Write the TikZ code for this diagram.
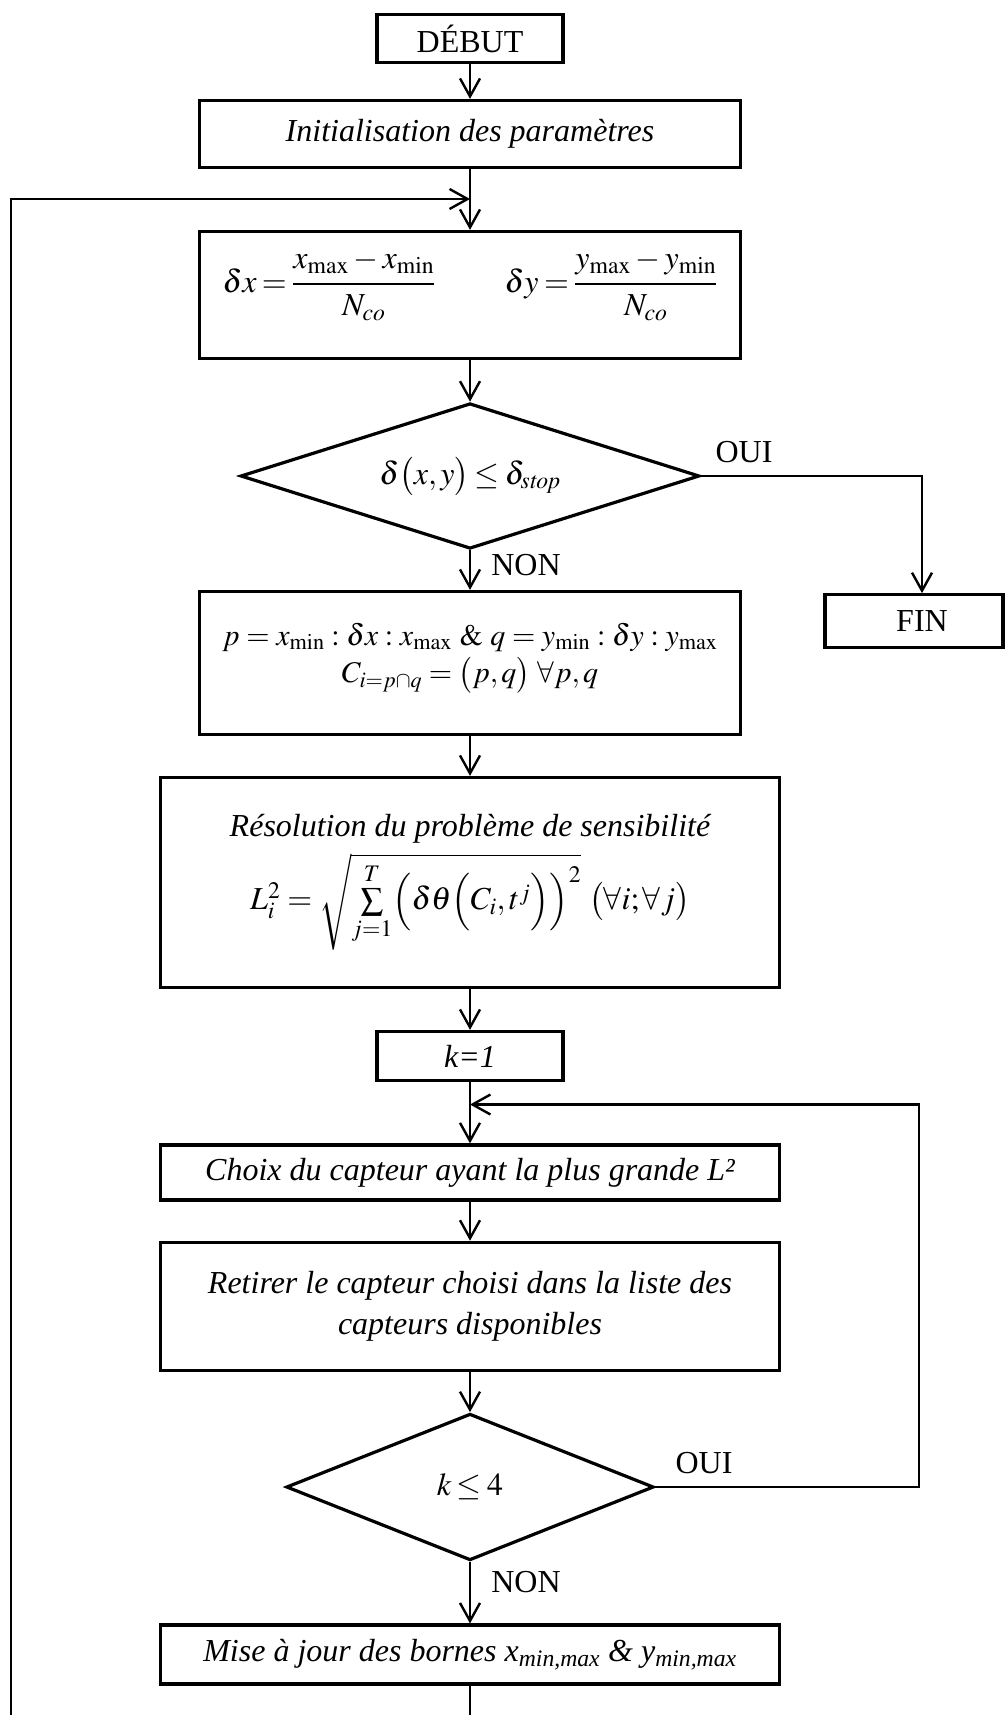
\documentclass[tikz,border=0pt]{standalone}
\usepackage{mathptmx}
\usepackage{fontspec}
\setmainfont{Liberation Serif}
\usetikzlibrary{arrows.meta,shapes.geometric}
\tikzset{
  every node/.style={font=\fontsize{32}{41}\selectfont},
  box/.style={draw, line width=3.2pt, rectangle, inner sep=0pt, align=center},
  dec/.style={draw, line width=3.2pt, diamond, aspect=3, inner sep=0pt},
  txt/.style={inner sep=0pt, align=center},
  arr/.style={line width=2.4pt, -{Straight Barb[length=18pt,width=20pt]}},
  ln/.style={line width=2.4pt},
}
\begin{document}
\begin{tikzpicture}[x=1pt,y=-1pt]
\useasboundingbox (0,0) rectangle (1005,1715);
% nodes
\node[box, minimum width=186pt, minimum height=48pt] (debut) at (470,38.5) {DÉBUT};
\node[box, minimum width=541pt, minimum height=67pt] (init) at (470,134) {\itshape Initialisation des paramètres};
\node[box, minimum width=541pt, minimum height=127pt] (delta) at (470,295) {};
\node[txt] (deltatxt) at (470,284) {$\thickmuskip=3mu\displaystyle \delta x=\frac{x_{\max}-x_{\min}\vphantom{\big|}}{\vphantom{\big|}N_{co}}\qquad\; \delta y=\frac{y_{\max}-y_{\min}\vphantom{\big|}}{\vphantom{\big|}N_{co}}$};
\node[dec, minimum width=459pt, minimum height=145.5pt] (d1) at (470,476) {$\thickmuskip=3mu\delta\bigl(x,y\bigr)\le\delta_{\mathit{stop}}$};
\node[box, minimum width=178pt, minimum height=52.5pt] (fin) at (914,621) {};
\node[txt] (fintxt) at (922,621) {FIN};
\node[box, minimum width=541pt, minimum height=143pt] (pbox) at (470,663) {};
\node[txt, font=\fontsize{30}{36}\selectfont] (pl1) at (470,637) {$p = x_{\min} : \delta x : x_{\max}\ \&\ q = y_{\min} : \delta y : y_{\max}$};
\node[txt, font=\fontsize{30}{36}\selectfont] (pl2) at (470,675) {$C_{i=p\cap q} = \bigl(p,q\bigr)\ \forall p,q$};
\node[box, minimum width=619pt, minimum height=210pt] (res) at (470,882.5) {};
\node[txt] (resl1) at (470,829) {\itshape Résolution du problème de sensibilité};
\node[txt] (resl2) at (470,902) {$L_i^2=\sqrt{\sum\limits_{j=1}^{T}\Bigl(\delta\theta\Bigl(C_i,t^j\Bigr)\Bigr)^2}\ \bigl(\forall i;\forall j\bigr)$};
\node[box, minimum width=186pt, minimum height=49pt] (k1) at (470,1056) {\itshape k=1};
\node[box, minimum width=619pt, minimum height=55pt] (choix) at (470,1172.4) {\itshape Choix du capteur ayant la plus grande L²};
\node[box, minimum width=619pt, minimum height=128pt] (retirer) at (470,1306.3) {\itshape Retirer le capteur choisi dans la liste des\\\itshape capteurs disponibles};
\node[dec, minimum width=367.5pt, minimum height=146.6pt] (d2) at (470,1487) {$\thickmuskip=3mu k\le 4$};
\node[box, minimum width=619pt, minimum height=59pt] (mise) at (470,1654.5) {\itshape Mise à jour des bornes x\textsubscript{min,max} \& y\textsubscript{min,max}};
% labels
\node[txt] (oui1) at (744,452) {OUI};
\node[txt] (non1) at (526,565) {NON};
\node[txt] (oui2) at (704,1463) {OUI};
\node[txt] (non2) at (526,1582) {NON};
% coordinates
\coordinate (loopL) at (11,1715);
\coordinate (loopT) at (11,199);
\coordinate (join1) at (470,199);
\coordinate (r2) at (919,1487);
\coordinate (r2t) at (919,1104.5);
\coordinate (join2) at (470,1104.5);
\coordinate (bot) at (470,1715);
% connectors
\draw[arr] (debut.south) -- (init.north);
\draw[arr] (init.south) -- (delta.north);
\draw[arr] (loopL) -- (loopT) -- (join1);
\draw[arr] (delta.south) -- (d1.north);
\draw[arr] (d1.east) -| (fin.north -| fintxt);
\draw[arr] (d1.south) -- (pbox.north);
\draw[arr] (pbox.south) -- (res.north);
\draw[arr] (res.south) -- (k1.north);
\draw[arr] (k1.south) -- (choix.north);
\draw[arr] (d2.east) -- (r2) -- (r2t) -- (join2);
\draw[arr] (choix.south) -- (retirer.north);
\draw[arr] (retirer.south) -- (d2.north);
\draw[arr] (d2.south) -- (mise.north);
\draw[ln] (mise.south) -- (bot);
\end{tikzpicture}
\end{document}
